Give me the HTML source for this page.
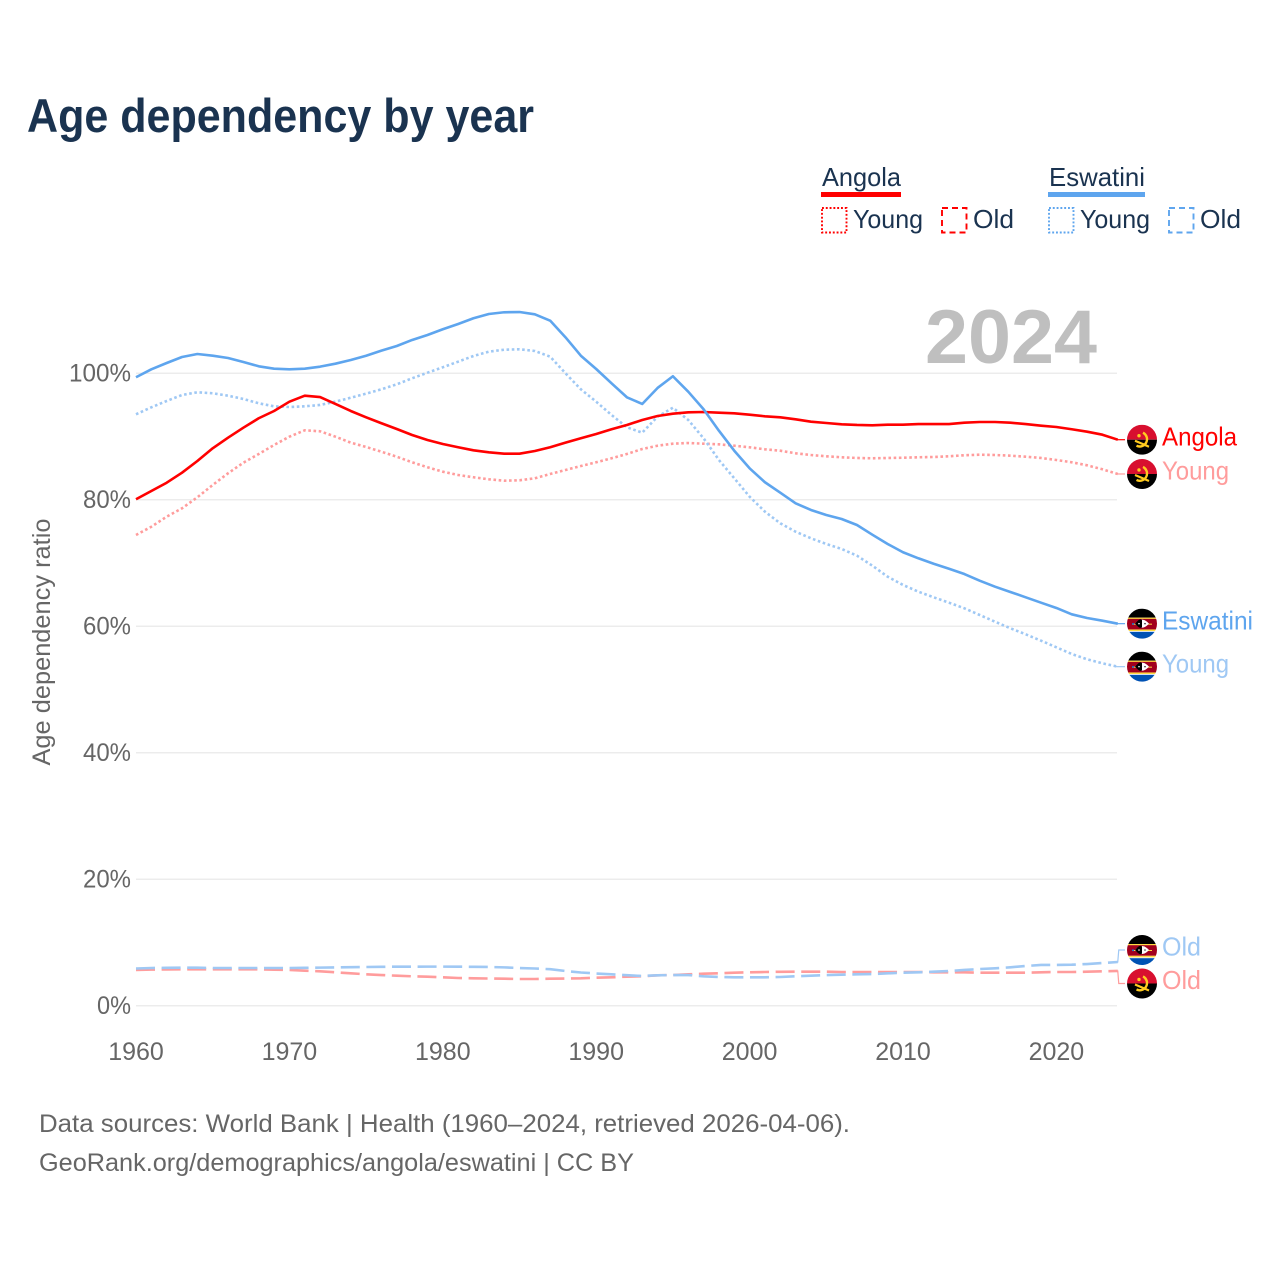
<!DOCTYPE html>
<html lang="en">
<head>
<meta charset="utf-8">
<title>Age dependency by year</title>
<style>
  html, body { margin: 0; padding: 0; background: #ffffff; }
  svg { display: block; font-family: "Liberation Sans", sans-serif; }
</style>
</head>
<body>
<svg id="chart" xmlns="http://www.w3.org/2000/svg" width="1280" height="1280" viewBox="0 0 1280 1280">
  <defs>
    <clipPath id="flag-clip"><circle cx="0" cy="0" r="15"></circle></clipPath>
    <symbol id="flag-angola" viewBox="-15 -15 30 30" overflow="visible">
      <g clip-path="url(#flag-clip)">
        <rect x="-15" y="-15" width="30" height="15" fill="#d80f2f"></rect>
        <rect x="-15" y="0" width="30" height="15" fill="#000000"></rect>
        <path d="M1,-7 A7,7 0 0 1 -5.5,6" fill="none" stroke="#ffcb1f" stroke-width="2.4"></path>
        <path d="M-7,1 L7,7" fill="none" stroke="#ffcb1f" stroke-width="2.2"></path>
        <circle cx="-3" cy="-4" r="1.7" fill="#ffcb1f"></circle>
      </g>
    </symbol>
    <symbol id="flag-eswatini" viewBox="-15 -15 30 30" overflow="visible">
      <g clip-path="url(#flag-clip)">
        <rect x="-15" y="-15" width="30" height="9" fill="#000000"></rect>
        <rect x="-15" y="-6" width="30" height="1.4" fill="#ffda44"></rect>
        <rect x="-15" y="-4.8" width="30" height="10.6" fill="#a2001d"></rect>
        <rect x="-15" y="5.8" width="30" height="1.6" fill="#ffda44"></rect>
        <rect x="-15" y="7.4" width="30" height="1" fill="#f5f5f5"></rect>
        <rect x="-15" y="8.2" width="30" height="7" fill="#0052b4"></rect>
        <rect x="-10" y="0" width="20" height="1" fill="#ffda44"></rect>
        <path d="M-7,0 Q0,-8 7,0 Q0,8 -7,0 Z" fill="#ffffff"></path>
        <path d="M-7,0 Q-2,-6 0,-3.5 L0,3.5 Q-2,6 -7,0 Z" fill="#000000"></path>
        <circle cx="-3" cy="0" r="0.8" fill="#ffffff"></circle>
        <circle cx="3" cy="0" r="0.8" fill="#333333"></circle>
        <circle cx="-9" cy="0.2" r="1" fill="#1a6fd0"></circle>
      </g>
    </symbol>
  </defs>

  <text x="27" y="132" font-size="47" font-weight="700" fill="#1a3350" textLength="507" lengthAdjust="spacingAndGlyphs">Age dependency by year</text>

  <g>
    <g>
      <text x="822" y="186" font-size="26" fill="#1a3350" textLength="79" lengthAdjust="spacingAndGlyphs">Angola</text>
      <rect x="821" y="192" width="80" height="5" fill="#ff0000"></rect>
      <rect x="822" y="208" width="24.5" height="24.5" fill="none" stroke="#ff0000" stroke-width="1.9" stroke-dasharray="1.9 1.9"></rect>
      <text x="853" y="228" font-size="26" fill="#1a3350" textLength="70" lengthAdjust="spacingAndGlyphs">Young</text>
      <rect x="942" y="208" width="24.5" height="24.5" fill="none" stroke="#ff0000" stroke-width="1.9" stroke-dasharray="6 4"></rect>
      <text x="973" y="228" font-size="26" fill="#1a3350" textLength="41" lengthAdjust="spacingAndGlyphs">Old</text>
    </g>
    <g>
      <text x="1049" y="186" font-size="26" fill="#1a3350" textLength="96" lengthAdjust="spacingAndGlyphs">Eswatini</text>
      <rect x="1048" y="192" width="97" height="5" fill="#5ea5ee"></rect>
      <rect x="1049" y="208" width="24.5" height="24.5" fill="none" stroke="#5ea5ee" stroke-width="1.9" stroke-dasharray="1.9 1.9"></rect>
      <text x="1080" y="228" font-size="26" fill="#1a3350" textLength="70" lengthAdjust="spacingAndGlyphs">Young</text>
      <rect x="1169" y="208" width="24.5" height="24.5" fill="none" stroke="#5ea5ee" stroke-width="1.9" stroke-dasharray="6 4"></rect>
      <text x="1200" y="228" font-size="26" fill="#1a3350" textLength="41" lengthAdjust="spacingAndGlyphs">Old</text>
    </g>
  </g>

  <text x="925" y="363" font-size="76" font-weight="700" fill="#bfbfbf" textLength="172" lengthAdjust="spacingAndGlyphs">2024</text>

  <text transform="translate(50,642) rotate(-90)" text-anchor="middle" font-size="25" fill="#666666" textLength="247" lengthAdjust="spacingAndGlyphs">Age dependency ratio</text>

  <g id="grid"></g>
  <g id="y-ticks"></g>
  <g id="x-ticks"></g>
  <g id="series"></g>
  <g id="end-labels"></g>

  <text x="39" y="1132" font-size="25" fill="#666666" textLength="811" lengthAdjust="spacingAndGlyphs">Data sources: World Bank | Health (1960–2024, retrieved 2026-04-06).</text>
  <text x="39" y="1171" font-size="25" fill="#666666" textLength="595" lengthAdjust="spacingAndGlyphs">GeoRank.org/demographics/angola/eswatini | CC BY</text>
</svg>

<script>
var years = [1960,1961,1962,1963,1964,1965,1966,1967,1968,1969,1970,1971,1972,1973,1974,1975,1976,1977,1978,1979,1980,1981,1982,1983,1984,1985,1986,1987,1988,1989,1990,1991,1992,1993,1994,1995,1996,1997,1998,1999,2000,2001,2002,2003,2004,2005,2006,2007,2008,2009,2010,2011,2012,2013,2014,2015,2016,2017,2018,2019,2020,2021,2022,2023,2024];
var xTickLabels = [1960,1970,1980,1990,2000,2010,2020];
var yTickLabels = [0,20,40,60,80,100];

var angolaTotal = [80.08,81.39,82.70,84.28,86.13,88.14,89.82,91.40,92.89,94.04,95.51,96.46,96.25,95.15,94.04,93.04,92.10,91.19,90.24,89.45,88.82,88.30,87.82,87.51,87.29,87.29,87.71,88.30,89.03,89.72,90.40,91.15,91.83,92.62,93.25,93.61,93.83,93.88,93.77,93.68,93.45,93.20,93.04,92.73,92.35,92.14,91.94,91.83,91.78,91.87,91.87,91.98,91.98,91.98,92.19,92.30,92.30,92.19,91.98,91.72,91.51,91.15,90.77,90.29,89.50];
var angolaYoung = [74.43,75.74,77.33,78.65,80.39,82.34,84.19,85.86,87.24,88.66,89.98,90.99,90.83,89.98,89.03,88.35,87.60,86.81,85.93,85.14,84.44,83.92,83.56,83.24,83.02,83.08,83.40,84.08,84.71,85.34,85.93,86.56,87.24,88.03,88.55,88.87,88.98,88.87,88.77,88.55,88.30,87.98,87.76,87.35,87.08,86.88,86.72,86.61,86.56,86.61,86.65,86.72,86.77,86.88,87.04,87.13,87.08,86.97,86.81,86.61,86.29,85.93,85.45,84.82,84.08];
var angolaOld = [5.65,5.71,5.74,5.76,5.76,5.76,5.76,5.76,5.76,5.69,5.65,5.53,5.44,5.28,5.12,4.97,4.85,4.74,4.65,4.59,4.49,4.38,4.33,4.30,4.27,4.22,4.22,4.27,4.30,4.33,4.43,4.49,4.59,4.65,4.81,4.85,4.97,5.06,5.12,5.22,5.28,5.33,5.36,5.38,5.38,5.38,5.33,5.33,5.33,5.33,5.33,5.33,5.28,5.28,5.28,5.22,5.22,5.22,5.22,5.28,5.33,5.33,5.38,5.44,5.49];
var eswatiniTotal = [99.37,100.63,101.63,102.58,103.05,102.78,102.42,101.79,101.11,100.73,100.63,100.73,101.05,101.52,102.10,102.78,103.58,104.32,105.27,106.06,106.96,107.80,108.70,109.38,109.65,109.69,109.33,108.32,105.69,102.78,100.68,98.42,96.21,95.15,97.68,99.53,97.09,94.31,90.92,87.76,84.98,82.77,81.12,79.44,78.39,77.59,76.96,76.01,74.48,73.01,71.70,70.75,69.89,69.10,68.26,67.21,66.26,65.42,64.58,63.73,62.89,61.89,61.31,60.88,60.41];
var eswatiniYoung = [93.52,94.62,95.62,96.57,97.00,96.84,96.46,95.94,95.26,94.78,94.67,94.78,94.99,95.51,96.14,96.78,97.47,98.26,99.21,100.10,100.95,101.84,102.74,103.42,103.73,103.80,103.53,102.63,100.00,97.47,95.51,93.41,91.46,90.61,93.14,94.56,92.62,89.72,86.29,83.40,80.49,78.12,76.28,74.95,73.91,73.01,72.22,71.16,69.58,67.84,66.53,65.47,64.58,63.73,62.84,61.78,60.72,59.68,58.73,57.72,56.67,55.61,54.78,54.14,53.61];
var eswatiniOld = [5.88,5.96,5.99,6.01,6.01,5.96,5.96,5.96,5.96,5.96,5.96,5.99,6.02,6.06,6.09,6.12,6.15,6.17,6.17,6.18,6.18,6.17,6.15,6.12,6.06,5.96,5.88,5.77,5.49,5.25,5.09,4.97,4.82,4.70,4.81,4.85,4.85,4.65,4.54,4.49,4.49,4.49,4.54,4.65,4.74,4.85,4.90,4.97,5.01,5.12,5.22,5.28,5.38,5.49,5.65,5.80,5.91,6.07,6.28,6.44,6.44,6.48,6.59,6.75,6.91];

var SVG_NS = 'http://www.w3.org/2000/svg';

function xScale(year) {
  return 136 + (year - 1960) * 15.34;
}
function yScale(value) {
  return 1005.7 - value * 6.324;
}
function make(tag, parent, attrs) {
  var el = document.createElementNS(SVG_NS, tag);
  for (var k in attrs) { el.setAttribute(k, attrs[k]); }
  parent.appendChild(el);
  return el;
}

var gridGroup = document.getElementById('grid');
var yTickGroup = document.getElementById('y-ticks');
var xTickGroup = document.getElementById('x-ticks');
var seriesGroup = document.getElementById('series');
var labelGroup = document.getElementById('end-labels');

yTickLabels.forEach(function (v) {
  var line = make('line', gridGroup, { x1: 136, x2: 1117, y1: yScale(v), y2: yScale(v), stroke: '#ececec', 'stroke-width': 1.5 });
  
  
  var label = v + '%';
  var t = make('text', yTickGroup, { x: 131, y: yScale(v) + 8.4, 'text-anchor': 'end', 'font-size': 25, fill: '#666666', textLength: (label.length - 1) * 14 + 20, lengthAdjust: 'spacingAndGlyphs' });
  
  
  t.textContent = label;
});

xTickLabels.forEach(function (y) {
  var t = make('text', xTickGroup, { x: xScale(y), y: 1060, 'text-anchor': 'middle', 'font-size': 25, fill: '#666666' });
  
  
  t.textContent = y;
});

function drawLine(values, name, color, dash) {
  var pts = values.map(function (v, i) {
    return xScale(years[i]).toFixed(2) + ',' + yScale(v).toFixed(2);
  }).join(' ');
  var attrs = { points: pts, fill: 'none', stroke: color, 'stroke-width': 2.6, 'stroke-linejoin': 'round' };
  if (dash) { attrs['stroke-dasharray'] = dash; }
  var el = make('polyline', seriesGroup, attrs);
  
  
}

var RED = '#ff0000', RED_LIGHT = '#ff9c9c', BLUE = '#5ea5ee', BLUE_LIGHT = '#9fc8f4';
var DOT = '2.6 2.6', DASH = '19 6.6';

drawLine(angolaYoung, 'line-angola-young', RED_LIGHT, DOT);
drawLine(angolaOld, 'line-angola-old', RED_LIGHT, DASH);
drawLine(eswatiniYoung, 'line-eswatini-young', BLUE_LIGHT, DOT);
drawLine(eswatiniOld, 'line-eswatini-old', BLUE_LIGHT, DASH);
drawLine(angolaTotal, 'line-angola-total', RED, null);
drawLine(eswatiniTotal, 'line-eswatini-total', BLUE, null);

function drawEndLabel(values, text, name, color, flag, offset, textWidth) {
  var endX = xScale(years[years.length - 1]);
  var endY = yScale(values[values.length - 1]);
  var labelY = endY + offset;
  var conn = make('polyline', labelGroup, {
    points: (endX - 2) + ',' + endY + ' ' + endX + ',' + endY + ' ' + (endX + 1) + ',' + labelY + ' 1125,' + labelY,
    fill: 'none', stroke: color, 'stroke-width': 1.2
  });
  
  
  var use = make('use', labelGroup, { href: '#' + flag, x: 1127, y: labelY - 15, width: 30, height: 30 });
  
  
  var t = make('text', labelGroup, { x: 1162, y: labelY + 5.6, 'font-size': 26, fill: color, textLength: textWidth, lengthAdjust: 'spacingAndGlyphs' });
  
  
  t.textContent = text;
}

drawEndLabel(angolaTotal, 'Angola', 'end-angola-total', RED, 'flag-angola', 0, 75);
drawEndLabel(angolaYoung, 'Young', 'end-angola-young', RED_LIGHT, 'flag-angola', 0, 67);
drawEndLabel(eswatiniTotal, 'Eswatini', 'end-eswatini-total', BLUE, 'flag-eswatini', 0, 91);
drawEndLabel(eswatiniYoung, 'Young', 'end-eswatini-young', BLUE_LIGHT, 'flag-eswatini', 0, 67);
drawEndLabel(eswatiniOld, 'Old', 'end-eswatini-old', BLUE_LIGHT, 'flag-eswatini', -12, 39);
drawEndLabel(angolaOld, 'Old', 'end-angola-old', RED_LIGHT, 'flag-angola', 12.5, 39);
</script>
</body>
</html>
